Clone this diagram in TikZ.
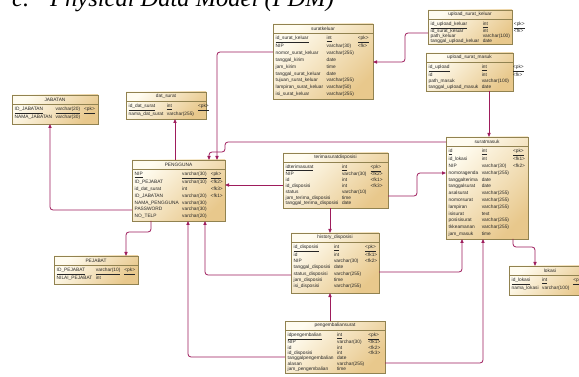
\documentclass[tikz,border=0pt]{standalone}
\usepackage{fontspec}
\setmainfont{Liberation Serif}
\setsansfont{Liberation Sans}
\usetikzlibrary{arrows.meta,calc}
\definecolor{fkline}{RGB}{158,28,92}
\definecolor{tbord}{RGB}{145,130,80}
\definecolor{tlight}{RGB}{255,252,240}
\definecolor{tdark}{RGB}{232,200,140}
\tikzset{
 tbl/.style={draw=tbord, line width=0.7pt, top color=tlight, bottom color=tdark, shading angle=45, anchor=north west, inner sep=0pt, outer sep=0pt},
 tblline/.style={draw=tbord, line width=0.5pt},
 hdr/.style={font=\sffamily\fontsize{4.8}{5}\selectfont, inner sep=0pt, text=black!85},
 rows/.style={anchor=north west, inner sep=0pt, font=\sffamily, text=black!85},
 fk/.style={draw=fkline, line width=0.8pt, rounded corners=3pt, -{Triangle[length=4pt,width=3.2pt]}},
}
\newcommand\pk[1]{\underline{#1}}
\newcommand\erd[8]{%
 \node[tbl, minimum width=#4pt, minimum height=#5pt] (#1) at (#2,#3) {};
 \draw[tblline] ($(#1.north west)+(0,9)$) -- ($(#1.north east)+(0,9)$);
 \node[hdr] (#1-h) at ($(#1.north)+(0,4.6)$) {#6};
 \node[rows] (#1-r) at ($(#1.north west)+(2.5,{15.7-0.7*#7})$) {\fontsize{4.8}{#7}\selectfont\begin{tabular}{@{}l@{\hspace{3.5pt}}l@{\hspace{4pt}}l@{}}#8\end{tabular}};
}
\begin{document}
\begin{tikzpicture}[x=1pt,y=-1pt]
\useasboundingbox (0,0) rectangle (579,377);
\clip (0,0) rectangle (579,377);
\fill[white] (0,0) rectangle (579,377);
\node[anchor=base west, font=\itshape\fontsize{24.5}{25}\selectfont, inner sep=0pt] (title) at (12,7) {c.\hspace{21pt}Physical Data Model (PDM)};

% tables
\erd{skel}{273}{24}{100}{75}{suratkeluar}{6.85}{%
\pk{id\_surat\_keluar} & \pk{int} & \pk{<pk>}\\
NIP & varchar(30) & <fk>\\
nomor\_surat\_keluar & varchar(255) & \\
tanggal\_kirim & date & \\
jam\_kirim & time & \\
tanggal\_surat\_keluar & date & \\
tujuan\_surat\_keluar & varchar(255) & \\
lampiran\_surat\_keluar & varchar(50) & \\
isi\_surat\_keluar & varchar(255) & }

\erd{upkel}{428}{10}{84}{34}{upload\_surat\_keluar}{5.2}{%
\pk{id\_upload\_keluar} & \pk{int} & \pk{<pk>}\\
id\_surat\_keluar & int & <fk>\\
path\_keluar & varchar(100) & \\
tanggal\_upload\_keluar & date & }

\erd{upmas}{426}{53}{87}{38}{upload\_surat\_masuk}{6.2}{%
\pk{id\_upload} & \pk{int} & \pk{<pk>}\\
id & int & <fk>\\
path\_masuk & varchar(100) & \\
tanggal\_upload\_masuk & date & }

\erd{smasuk}{446}{137}{82}{102}{suratmasuk}{6.8}{%
\pk{id} & \pk{int} & \pk{<pk>}\\
id\_lokasi & int & <fk1>\\
NIP & varchar(30) & <fk2>\\
nomoragenda & varchar(255) & \\
tanggalterima & date & \\
tanggalsurat & date & \\
asalsurat & varchar(255) & \\
nomorsurat & varchar(255) & \\
lampiran & varchar(255) & \\
isisurat & text & \\
posisisurat & varchar(255) & \\
tkkeamanan & varchar(255) & \\
jam\_masuk & time & }

\erd{lokasi}{509}{266}{82}{29}{lokasi}{7}{%
\pk{id\_lokasi} & \pk{int} & \pk{<pk>}\\
nama\_lokasi & varchar(100) & }

\erd{terima}{283}{153}{105}{55}{terimasuratdisposisi}{5.8}{%
\pk{idterimasurat} & \pk{int} & \pk{<pk>}\\
NIP & varchar(30) & <fk2>\\
id & int & <fk1>\\
id\_disposisi & int & <fk3>\\
status & varchar(10) & \\
jam\_terima\_disposisi & time & \\
tanggal\_terima\_disposisi & date & }

\erd{history}{291}{233}{88}{60}{history\_disposisi}{6.3}{%
\pk{id\_disposisi} & \pk{int} & \pk{<pk>}\\
id & int & <fk1>\\
NIP & varchar(30) & <fk2>\\
tanggal\_disposisi & date & \\
status\_disposisi & varchar(255) & \\
jam\_disposisi & time & \\
isi\_disposisi & varchar(255) & }

\erd{kembali}{285}{321}{100}{52}{pengembaliansurat}{5.4}{%
\pk{idpengembalian} & \pk{int} & \pk{<pk>}\\
NIP & varchar(30) & <fk1>\\
id & int & <fk2>\\
id\_disposisi & int & <fk3>\\
tanggalpengembalian & date & \\
alasan & varchar(255) & \\
jam\_pengembalian & time & }

\erd{pengguna}{132}{160}{93}{61}{PENGGUNA}{6.8}{%
\pk{NIP} & \pk{varchar(30)} & \pk{<pk>}\\
ID\_PEJABAT & varchar(10) & <fk2>\\
id\_dat\_surat & int & <fk3>\\
ID\_JABATAN & varchar(20) & <fk1>\\
NAMA\_PENGGUNA & varchar(30) & \\
PASSWORD & varchar(30) & \\
NO\_TELP & varchar(20) & }

\erd{datsurat}{126}{92}{80}{27}{dat\_surat}{6.5}{%
\pk{id\_dat\_surat} & \pk{int} & \pk{<pk>}\\
nama\_dat\_surat & varchar(255) & }

\erd{jabatan}{12}{95}{86}{29}{JABATAN}{6}{%
\pk{ID\_JABATAN} & \pk{varchar(20)} & \pk{<pk>}\\
NAMA\_JABATAN & varchar(30) & }

\erd{pejabat}{54}{256}{84}{28}{PEJABAT}{7}{%
\pk{ID\_PEJABAT} & \pk{varchar(10)} & \pk{<pk>}\\
NILAI\_PEJABAT & int & }

% connectors
\draw[fk] (upkel.west |- 0,33) -- (405,33) -- (405,62) -- (skel.east |- 0,62);
\draw[fk] (upmas.south -| 489,0) -- (smasuk.north -| 489,0);
\draw[fk] (smasuk.south -| 513,0) -- (513,247) -- (535,247) -- (lokasi.north -| 535,0);
\draw[fk] (skel.west |- 0,52) -- (217,52) -- (pengguna.north -| 217,0);
\draw[fk] (smasuk.west |- 0,142) -- (225,142) -- (225,152) -- (209,152) -- (pengguna.north -| 209,0);
\draw[fk] (terima.west |- 0,185) -- (pengguna.east |- 0,185);
\draw[fk] (terima.east |- 0,196) -- (417,196) -- (417,173) -- (smasuk.west |- 0,173);
\draw[fk] (terima.south -| 330,0) -- (history.north -| 330,0);
\draw[fk] (history.west |- 0,275) -- (205,275) -- (pengguna.south -| 205,0);
\draw[fk] (history.east |- 0,272) -- (462,272) -- (smasuk.south -| 462,0);
\draw[fk] (kembali.north -| 330,0) -- (history.south -| 330,0);
\draw[fk] (kembali.west |- 0,357) -- (188,357) -- (pengguna.south -| 188,0);
\draw[fk] (kembali.east |- 0,363) -- (483,363) -- (smasuk.south -| 483,0);
\draw[fk] (pengguna.west |- 0,210) -- (50,210) -- (jabatan.south -| 50,0);
\draw[fk] (pengguna.south -| 151,0) -- (151,232) -- (126,232) -- (pejabat.north -| 126,0);
\draw[fk] (pengguna.north -| 175,0) -- (datsurat.south -| 175,0);
\end{tikzpicture}
\end{document}
